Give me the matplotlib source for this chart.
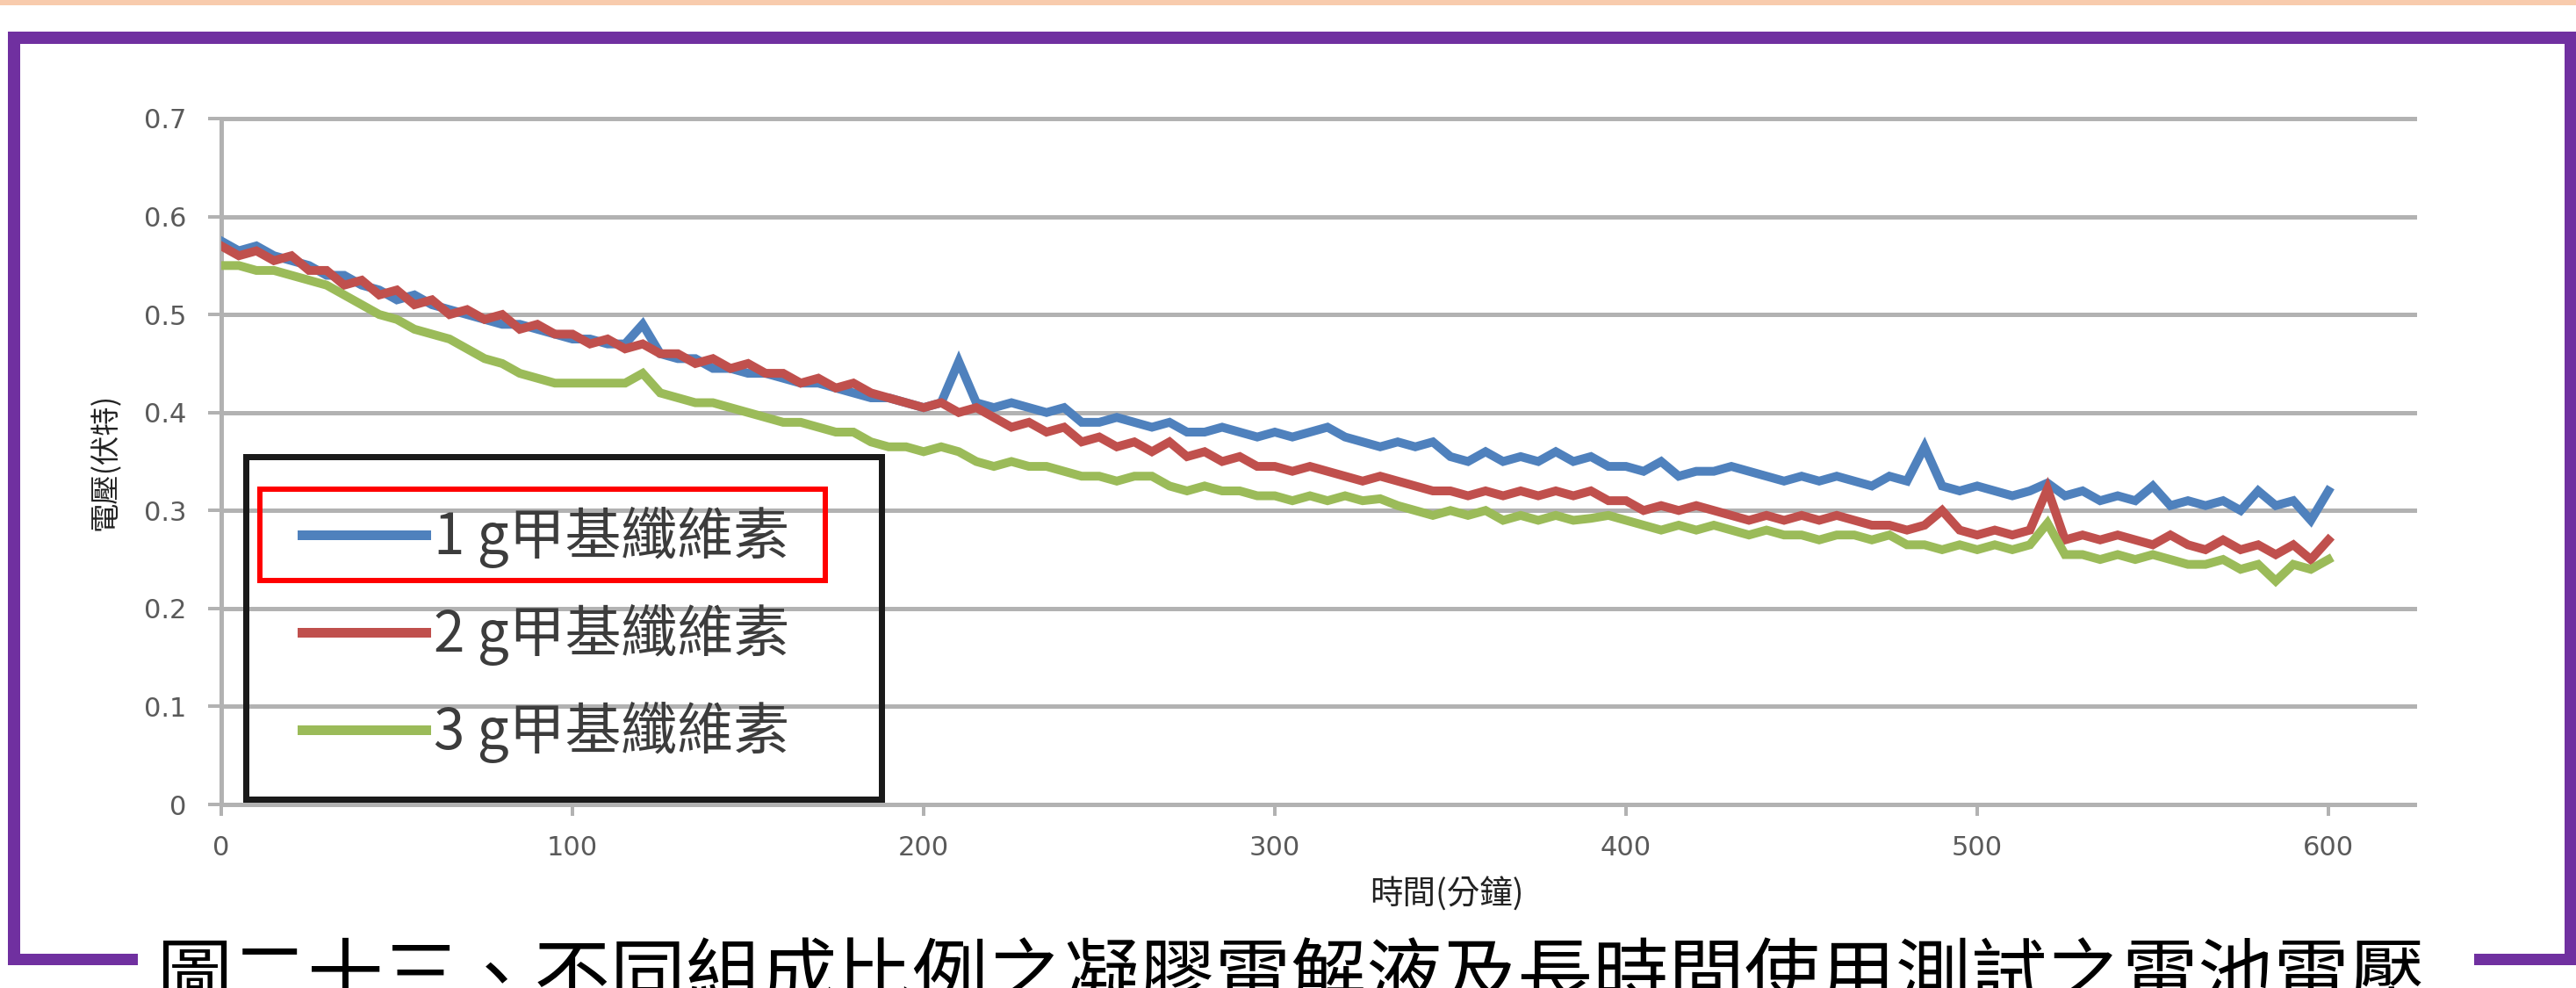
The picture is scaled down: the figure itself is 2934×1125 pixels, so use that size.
import matplotlib
matplotlib.use("Agg")
import matplotlib.pyplot as plt
from matplotlib.patches import Rectangle

# ---------------------------------------------------------------- data
minutes = list(range(0, 601, 5))

v_1g = [0.575, 0.565, 0.570, 0.560, 0.555, 0.550, 0.540, 0.540, 0.530, 0.525,
        0.515, 0.520, 0.510, 0.505, 0.500, 0.495, 0.490, 0.490, 0.485, 0.480,
        0.475, 0.475, 0.470, 0.470, 0.490, 0.460, 0.455, 0.455, 0.445, 0.445,
        0.440, 0.440, 0.435, 0.430, 0.430, 0.425, 0.420, 0.415, 0.415, 0.410,
        0.405, 0.410, 0.452, 0.410, 0.405, 0.410, 0.405, 0.400, 0.405, 0.390,
        0.390, 0.395, 0.390, 0.385, 0.390, 0.380, 0.380, 0.385, 0.380, 0.375,
        0.380, 0.375, 0.380, 0.385, 0.375, 0.370, 0.365, 0.370, 0.365, 0.370,
        0.355, 0.350, 0.360, 0.350, 0.355, 0.350, 0.360, 0.350, 0.355, 0.345,
        0.345, 0.340, 0.350, 0.335, 0.340, 0.340, 0.345, 0.340, 0.335, 0.330,
        0.335, 0.330, 0.335, 0.330, 0.325, 0.335, 0.330, 0.365, 0.325, 0.320,
        0.325, 0.320, 0.315, 0.320, 0.328, 0.315, 0.320, 0.310, 0.315, 0.310,
        0.325, 0.305, 0.310, 0.305, 0.310, 0.300, 0.320, 0.305, 0.310, 0.290,
        0.320]

v_2g = [0.570, 0.560, 0.565, 0.555, 0.560, 0.545, 0.545, 0.530, 0.535, 0.520,
        0.525, 0.510, 0.515, 0.500, 0.505, 0.495, 0.500, 0.485, 0.490, 0.480,
        0.480, 0.470, 0.475, 0.465, 0.470, 0.460, 0.460, 0.450, 0.455, 0.445,
        0.450, 0.440, 0.440, 0.430, 0.435, 0.425, 0.430, 0.420, 0.415, 0.410,
        0.405, 0.410, 0.400, 0.405, 0.395, 0.385, 0.390, 0.380, 0.385, 0.370,
        0.375, 0.365, 0.370, 0.360, 0.370, 0.355, 0.360, 0.350, 0.355, 0.345,
        0.345, 0.340, 0.345, 0.340, 0.335, 0.330, 0.335, 0.330, 0.325, 0.320,
        0.320, 0.315, 0.320, 0.315, 0.320, 0.315, 0.320, 0.315, 0.320, 0.310,
        0.310, 0.300, 0.305, 0.300, 0.305, 0.300, 0.295, 0.290, 0.295, 0.290,
        0.295, 0.290, 0.295, 0.290, 0.285, 0.285, 0.280, 0.285, 0.300, 0.280,
        0.275, 0.280, 0.275, 0.280, 0.322, 0.270, 0.275, 0.270, 0.275, 0.270,
        0.265, 0.275, 0.265, 0.260, 0.270, 0.260, 0.265, 0.255, 0.265, 0.250,
        0.270]

v_3g = [0.550, 0.550, 0.545, 0.545, 0.540, 0.535, 0.530, 0.520, 0.510, 0.500,
        0.495, 0.485, 0.480, 0.475, 0.465, 0.455, 0.450, 0.440, 0.435, 0.430,
        0.430, 0.430, 0.430, 0.430, 0.440, 0.420, 0.415, 0.410, 0.410, 0.405,
        0.400, 0.395, 0.390, 0.390, 0.385, 0.380, 0.380, 0.370, 0.365, 0.365,
        0.360, 0.365, 0.360, 0.350, 0.345, 0.350, 0.345, 0.345, 0.340, 0.335,
        0.335, 0.330, 0.335, 0.335, 0.325, 0.320, 0.325, 0.320, 0.320, 0.315,
        0.315, 0.310, 0.315, 0.310, 0.315, 0.310, 0.312, 0.305, 0.300, 0.295,
        0.300, 0.295, 0.300, 0.290, 0.295, 0.290, 0.295, 0.290, 0.292, 0.295,
        0.290, 0.285, 0.280, 0.285, 0.280, 0.285, 0.280, 0.275, 0.280, 0.275,
        0.275, 0.270, 0.275, 0.275, 0.270, 0.275, 0.265, 0.265, 0.260, 0.265,
        0.260, 0.265, 0.260, 0.265, 0.287, 0.255, 0.255, 0.250, 0.255, 0.250,
        0.255, 0.250, 0.245, 0.245, 0.250, 0.240, 0.245, 0.228, 0.245, 0.240,
        0.250]

series_values = [v_1g, v_2g, v_3g]
series_labels = ["1 g甲基纖維素", "2 g甲基纖維素", "3 g甲基纖維素"]
series_colors = ["#4F81BD", "#C0504D", "#9BBB59"]

x_ticks = [0, 100, 200, 300, 400, 500, 600]
y_ticks = [0, 0.1, 0.2, 0.3, 0.4, 0.5, 0.6, 0.7]
y_tick_labels = ["0", "0.1", "0.2", "0.3", "0.4", "0.5", "0.6", "0.7"]
x_label = "時間(分鐘)"
y_label = "電壓(伏特)"
caption = "圖二十三、不同組成比例之凝膠電解液及長時間使用測試之電池電壓"

# ---------------------------------------------------------------- layout helpers
W, H, DPI = 2934, 1125, 100
CJK = ["Noto Sans CJK TC", "DejaVu Sans"]
PT = 72.0 / DPI          # points per pixel


def fx(px):
    return px / W


def fy(py):
    return 1.0 - py / H


fig = plt.figure(figsize=(W / DPI, H / DPI), dpi=DPI, facecolor="white")


def box(x0, y0, x1, y1, color, z=5, fill=True, lw=0):
    """Rectangle given in pixel coordinates (origin top-left)."""
    r = Rectangle((fx(x0), fy(y1)), fx(x1) - fx(x0), fy(y0) - fy(y1),
                  transform=fig.transFigure, zorder=z,
                  facecolor=color if fill else "none",
                  edgecolor=color if not fill else "none",
                  linewidth=lw)
    fig.add_artist(r)
    return r


# page decoration: peach strip and purple frame
box(0, 0, W, 6, "#F8CBAD")
PURPLE = "#7030A0"
box(9, 36, W, 50, PURPLE)          # top
box(9, 36, 23, 1099, PURPLE)       # left
box(2921, 36, W, 1099, PURPLE)     # right
box(9, 1086, 157, 1099, PURPLE)    # bottom-left piece
box(2818, 1086, W, 1099, PURPLE)   # bottom-right piece

# ---------------------------------------------------------------- chart
ax = fig.add_axes([fx(252), fy(916), fx(2750) - fx(252), (916 - 135) / H])
ax.set_xlim(0, 624.5)
ax.set_ylim(0, 0.7)
ax.set_facecolor("white")

GRID = "#B2B2B2"
for yv in y_ticks[1:]:
    ax.axhline(yv, color=GRID, lw=5 * PT, zorder=1, clip_on=False)

for vals, col, lab in zip(series_values, series_colors, series_labels):
    ax.plot(minutes, vals, color=col, lw=10 * PT, label=lab, zorder=3,
            solid_joinstyle="miter")

for side in ("top", "right"):
    ax.spines[side].set_visible(False)
for side in ("left", "bottom"):
    ax.spines[side].set_color(GRID)
    ax.spines[side].set_linewidth(5 * PT)

ax.set_xticks(x_ticks)
ax.set_xticklabels([str(v) for v in x_ticks])
ax.set_yticks(y_ticks)
ax.set_yticklabels(y_tick_labels)
ax.tick_params(axis="y", direction="out", length=15 * PT, width=4 * PT,
               color=GRID, pad=25 * PT, labelsize=22, labelcolor="#5A5A5A")
ax.tick_params(axis="x", direction="out", length=13 * PT, width=4 * PT,
               color=GRID, pad=22 * PT, labelsize=22, labelcolor="#5A5A5A")

# axis titles
fig.text(fx(1648), fy(1019), x_label, family=CJK, fontsize=27,
         color="#222222", ha="center", va="center")
fig.text(fx(120), fy(526), y_label, family=CJK, fontsize=24,
         color="#222222", ha="center", va="center", rotation=90)

# legend: black frame, red highlight and the entries
box(280, 520, 1004, 910, "#1A1A1A", z=6, fill=False, lw=7 * PT)
box(296, 557, 940, 661, "#FF0000", z=7, fill=False, lw=6 * PT)
leg = ax.legend(loc="center left", bbox_to_anchor=(fx(344), fy(723)),
                bbox_transform=fig.transFigure, frameon=False,
                prop={"family": CJK, "size": 46}, handlelength=2.2,
                handletextpad=0.15, labelspacing=0.64, borderpad=0,
                borderaxespad=0)
for line in leg.get_lines():
    line.set_linewidth(11 * PT)
for t in leg.get_texts():
    t.set_color("#3C3C3C")
leg.set_zorder(8)

# caption under the chart, running off the bottom edge
fig.text(fx(179), fy(1140), caption, family=CJK, fontsize=62,
         color="black", ha="left", va="baseline")

fig.savefig("out.png", dpi=DPI, facecolor="white")
